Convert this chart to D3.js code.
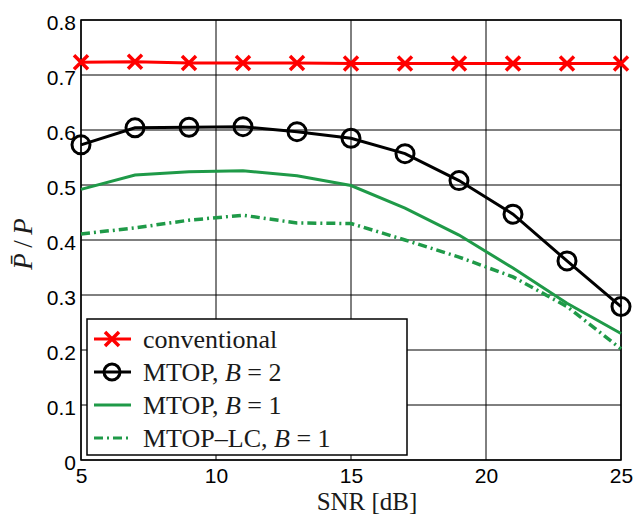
<!DOCTYPE html>
<html>
<head>
<script src="https://cdn.jsdelivr.net/npm/d3@7"></script>
<style>
  body { margin: 0; background: #fff; }
  .tick text { font-family: "Liberation Sans", Arial, sans-serif; font-size: 21px; fill: #000; }
  .serif { font-family: "Liberation Serif", "Times New Roman", serif; fill: #1a1a1a; }
</style>
</head>
<body>
<div id="chart"></div>
<script>
// SNR points (dB)
const snr = [5, 7, 9, 11, 13, 15, 17, 19, 21, 23, 25];
const conventional = [0.723, 0.724, 0.722, 0.722, 0.722, 0.721, 0.721, 0.721, 0.721, 0.721, 0.721];
const mtopB2 = [0.573, 0.604, 0.605, 0.606, 0.597, 0.585, 0.557, 0.508, 0.447, 0.362, 0.279];
const mtopB1 = [0.492, 0.518, 0.524, 0.526, 0.517, 0.499, 0.458, 0.409, 0.349, 0.285, 0.230];
const mtopLcB1 = [0.411, 0.422, 0.436, 0.445, 0.431, 0.430, 0.400, 0.369, 0.333, 0.279, 0.202];
const xTicks = [5, 10, 15, 20, 25];
const yTicks = [0, 0.1, 0.2, 0.3, 0.4, 0.5, 0.6, 0.7, 0.8];

const W = 636, H = 515;
const margin = { top: 20, right: 15, bottom: 55, left: 81 };
const width = W - margin.left - margin.right;   // 540
const height = H - margin.top - margin.bottom;  // 440

const svg = d3.select("#chart").append("svg")
    .attr("width", W).attr("height", H);
const g = svg.append("g").attr("transform", `translate(${margin.left},${margin.top})`);

const x = d3.scaleLinear().domain([5, 25]).range([0, width]);
const y = d3.scaleLinear().domain([0, 0.8]).range([height, 0]);

// grid
g.append("g").selectAll("line").data(xTicks).join("line")
    .attr("x1", d => x(d)).attr("x2", d => x(d)).attr("y1", 0).attr("y2", height)
    .attr("stroke", "#000").attr("stroke-width", 1);
g.append("g").selectAll("line").data(yTicks).join("line")
    .attr("y1", d => y(d)).attr("y2", d => y(d)).attr("x1", 0).attr("x2", width)
    .attr("stroke", "#000").attr("stroke-width", 1);

// axes
const xAxis = g.append("g").attr("transform", `translate(0,${height})`)
    .call(d3.axisBottom(x).tickValues(xTicks).tickFormat(d3.format("d")).tickSize(0).tickPadding(8));
const yAxis = g.append("g")
    .call(d3.axisLeft(y).tickValues(yTicks).tickFormat(d => d === 0 ? "0" : d3.format(".1f")(d)).tickSize(0).tickPadding(5));
xAxis.select(".domain").remove();
yAxis.select(".domain").remove();
yAxis.selectAll(".tick text").attr("dy", "0.45em");

g.append("rect").attr("width", width).attr("height", height)
    .attr("fill", "none").attr("stroke", "#000").attr("stroke-width", 1.5);

const line = vals => d3.line().x((d, i) => x(snr[i])).y(d => y(d))(vals);

const red = "#ff0000", green = "#1f9a48";

g.append("path").attr("d", line(mtopLcB1)).attr("fill", "none")
    .attr("stroke", green).attr("stroke-width", 3.5).attr("stroke-dasharray", "9,4,2,4");
g.append("path").attr("d", line(mtopB1)).attr("fill", "none")
    .attr("stroke", green).attr("stroke-width", 3);
g.append("path").attr("d", line(mtopB2)).attr("fill", "none")
    .attr("stroke", "#000").attr("stroke-width", 3);
g.append("g").selectAll("circle").data(mtopB2).join("circle")
    .attr("cx", (d, i) => x(snr[i])).attr("cy", d => y(d)).attr("r", 9)
    .attr("fill", "none").attr("stroke", "#000").attr("stroke-width", 3);
g.append("path").attr("d", line(conventional)).attr("fill", "none")
    .attr("stroke", red).attr("stroke-width", 3);
const crossPath = "M-7,-7L7,7M-7,7L7,-7";
g.append("g").selectAll("path").data(conventional).join("path")
    .attr("transform", (d, i) => `translate(${x(snr[i])},${y(d)})`)
    .attr("d", crossPath).attr("stroke", red).attr("stroke-width", 3.5);

// axis labels
svg.append("text").attr("class", "serif")
    .attr("x", 367).attr("y", 510)
    .attr("text-anchor", "middle").attr("font-size", 25).text("SNR [dB]");

const yl = svg.append("g").attr("transform", "translate(32,244) rotate(-90)");
const ylt = yl.append("text").attr("class", "serif").attr("text-anchor", "middle")
    .attr("font-size", 27).attr("font-style", "italic");
ylt.append("tspan").text("P\u0304");
ylt.append("tspan").attr("font-style", "normal").text("\u2009/\u2009");
ylt.append("tspan").text("P");

// legend
const legend = svg.append("g").attr("transform", "translate(87,319)");
legend.append("rect").attr("width", 320).attr("height", 136)
    .attr("fill", "#fff").attr("stroke", "#000").attr("stroke-width", 1.5);

const entries = [
    { parts: [["conventional", "normal"]], color: red, dash: null, marker: "x" },
    { parts: [["MTOP, ", "normal"], ["B", "italic"], [" = 2", "normal"]], color: "#000", dash: null, marker: "o" },
    { parts: [["MTOP, ", "normal"], ["B", "italic"], [" = 1", "normal"]], color: green, dash: null, marker: null },
    { parts: [["MTOP\u2013LC, ", "normal"], ["B", "italic"], [" = 1", "normal"]], color: green, dash: "9,4,2,4", marker: null }
];
entries.forEach((e, i) => {
    const cy = 20 + i * 33;
    const row = legend.append("g").attr("transform", `translate(0,${cy})`);
    row.append("line").attr("x1", 7).attr("x2", 44).attr("y1", 0).attr("y2", 0)
        .attr("stroke", e.color).attr("stroke-width", 3)
        .attr("stroke-dasharray", e.dash);
    if (e.marker === "x") row.append("path").attr("transform", "translate(25,0)")
        .attr("d", crossPath).attr("stroke", e.color).attr("stroke-width", 3.5);
    if (e.marker === "o") row.append("circle").attr("cx", 25).attr("r", 8)
        .attr("fill", "none").attr("stroke", e.color).attr("stroke-width", 3);
    const t = row.append("text").attr("class", "serif").attr("x", 56).attr("y", 9)
        .attr("font-size", 26);
    e.parts.forEach(p => t.append("tspan").attr("font-style", p[1]).text(p[0]));
});
</script>
</body>
</html>
